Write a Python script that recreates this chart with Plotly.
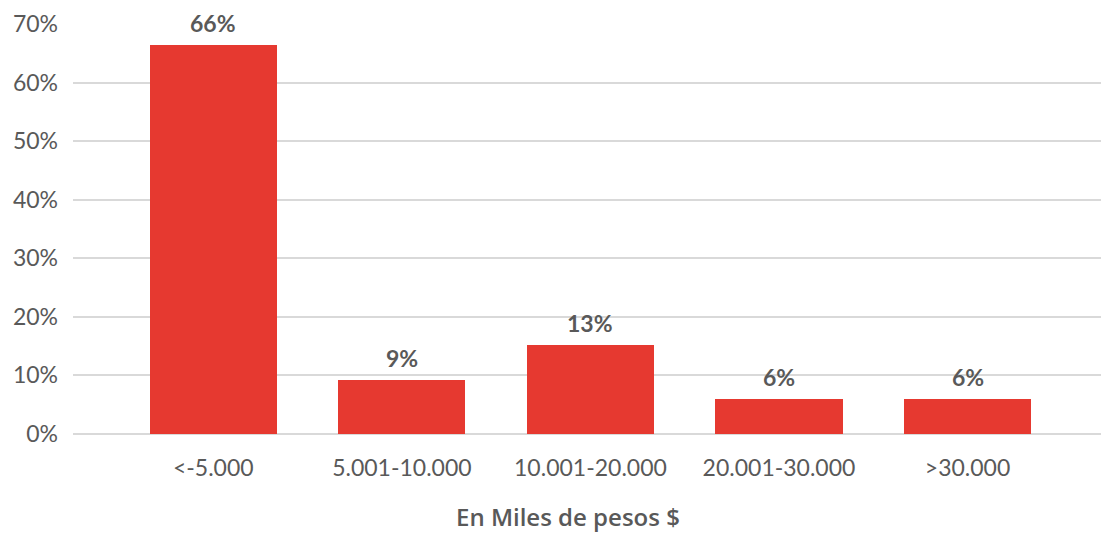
import plotly.graph_objects as go

categories = ["<-5.000", "5.001-10.000", "10.001-20.000", "20.001-30.000", ">30.000"]
values = [66.4, 9.2, 15.2, 6.0, 6.0]
labels = ["66%", "9%", "13%", "6%", "6%"]
y_ticks = [0, 10, 20, 30, 40, 50, 60, 70]
y_ticklabels = ["0%", "10%", "20%", "30%", "40%", "50%", "60%", "70%"]
x_title = "En Miles de pesos $"

BAR = "#E63930"
TXT = "#595959"
GRID = "#D9D9D9"
FONT = "Lato"

fig = go.Figure()
fig.add_trace(go.Bar(
    x=list(range(len(categories))), y=values,
    marker=dict(color=BAR, line=dict(width=0)),
    width=0.674, hoverinfo="skip",
))

for i, (v, t) in enumerate(zip(values, labels)):
    fig.add_annotation(x=i, y=v, text=f"<b>{t}</b>", showarrow=False,
                       yanchor="bottom", yshift=6,
                       font=dict(family=FONT, size=23, color=TXT))

# x-axis title (slightly left of centre, as in the reference)
fig.add_annotation(xref="paper", yref="paper", x=0.478, y=-0.2,
                   xanchor="center", yanchor="middle", showarrow=False,
                   text=x_title,
                   font=dict(family="Open Sans", size=24, color=TXT, weight=600))

fig.update_layout(
    width=1101, height=525,
    margin=dict(l=65, r=0, t=16, b=99),
    paper_bgcolor="white", plot_bgcolor="white",
    showlegend=False,
    font=dict(family=FONT, size=23, color=TXT),
    bargap=0,
    xaxis=dict(
        range=[-0.744, 4.75],
        tickmode="array", tickvals=list(range(len(categories))),
        ticktext=categories, showgrid=False, zeroline=False,
        showline=False, ticks="", ticklabelstandoff=18,
        tickfont=dict(family=FONT, size=23, color=TXT),
    ),
    yaxis=dict(
        range=[0, 70], tickmode="array", tickvals=y_ticks,
        ticktext=y_ticklabels, showgrid=True, gridcolor=GRID, gridwidth=2,
        zeroline=True, zerolinecolor=GRID, zerolinewidth=2,
        ticks="", ticklabelstandoff=14,
        tickfont=dict(family=FONT, size=23, color=TXT),
    ),
)

fig.write_html("out.html")
